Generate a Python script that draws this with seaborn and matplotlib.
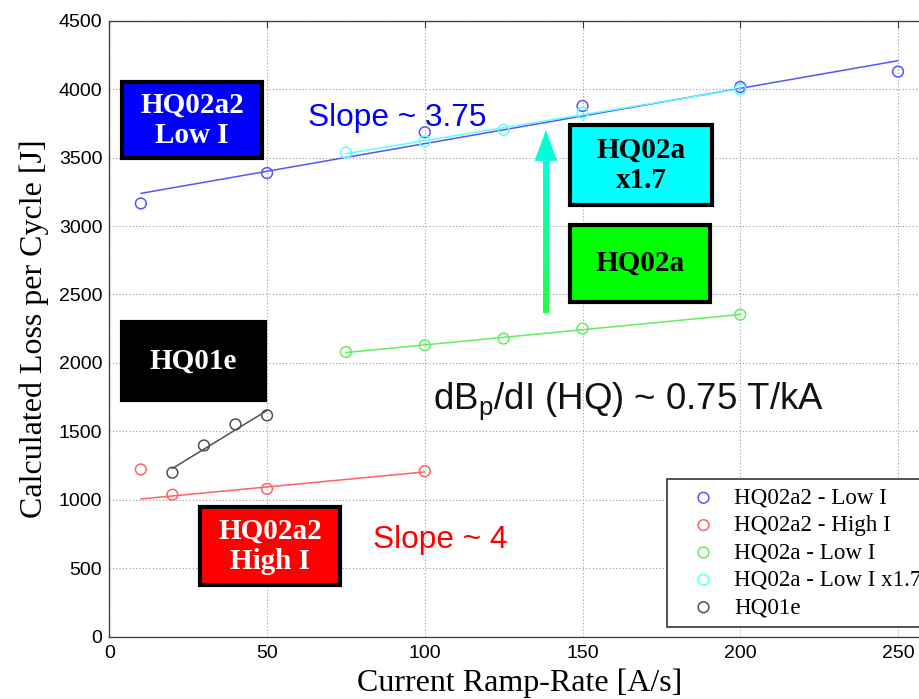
import numpy as np
import matplotlib
matplotlib.use("Agg")
import matplotlib.pyplot as plt
import seaborn as sns
from matplotlib.patches import Rectangle, Polygon

# Ramp rates [A/s] and calculated loss per cycle [J] for each magnet / current range
hq02a2_low_rate = [10, 50, 100, 150, 200, 250]
hq02a2_low_loss = [3165, 3387, 3685, 3877, 4016, 4128]

hq02a2_high_rate = [10, 20, 50, 100]
hq02a2_high_loss = [1222, 1037, 1080, 1209]

hq02a_low_rate = [75, 100, 125, 150, 200]
hq02a_low_loss = [2080, 2129, 2178, 2251, 2353]

hq02a_scaled_rate = [75, 100, 125, 150, 200]
hq02a_scaled_loss = [3536, 3619, 3703, 3827, 4000]

hq01e_rate = [20, 30, 40, 50]
hq01e_loss = [1198, 1397, 1551, 1617]

series_labels = ["HQ02a2 - Low I", "HQ02a2 - High I", "HQ02a - Low I",
                 "HQ02a - Low I x1.7", "HQ01e"]
series_colors = ["#5555ff", "#ff6262", "#5ef05e", "#5cffff", "#505050"]

x_ticks = [0, 50, 100, 150, 200, 250]
y_ticks = [0, 500, 1000, 1500, 2000, 2500, 3000, 3500, 4000, 4500]

sns.set_theme(style="white")
plt.rcParams["font.family"] = ["Liberation Sans", "DejaVu Sans"]
plt.rcParams["mathtext.fontset"] = "custom"
plt.rcParams["mathtext.rm"] = "Liberation Sans"
SERIF = ["Liberation Serif", "DejaVu Serif"]

fig = plt.figure(figsize=(9.2, 6.99), dpi=100)
ax = fig.add_axes([0.1188, 0.0891, 0.8916, 0.8813])
ax.set_facecolor("white")

rates = [hq02a2_low_rate, hq02a2_high_rate, hq02a_low_rate, hq02a_scaled_rate, hq01e_rate]
losses = [hq02a2_low_loss, hq02a2_high_loss, hq02a_low_loss, hq02a_scaled_loss, hq01e_loss]

# Linear fits; the 10 A/s high-current point is left out of its fit
fit_skip = [0, 1, 0, 0, 0]
for r, l, c, skip in zip(rates, losses, series_colors, fit_skip):
    r = np.asarray(r, float)
    l = np.asarray(l, float)
    k, b = np.polyfit(r[skip:], l[skip:], 1)
    xs = np.array([r.min(), r.max()])
    sns.lineplot(x=xs, y=k * xs + b, ax=ax, color=c, linewidth=1.1,
                 legend=False, zorder=3)

for r, l, c, lab in zip(rates, losses, series_colors, series_labels):
    sns.scatterplot(x=r, y=l, ax=ax, marker="o", s=60, facecolor="none",
                    edgecolor=c, linewidth=1.1, label=lab, zorder=4)

ax.set_xlim(0, 260)
ax.set_ylim(0, 4500)
ax.set_xticks(x_ticks)
ax.set_yticks(y_ticks)
ax.set_xticklabels([str(t) for t in x_ticks], fontsize=14, color="black")
ax.set_yticklabels([str(t) for t in y_ticks], fontsize=14, color="black")
ax.tick_params(direction="in", length=5, width=0.8, color="#333333",
               top=True, right=True, pad=5)
ax.tick_params(axis="x", pad=6)
ax.grid(True, linestyle=(0, (1, 2)), color="#9a9a9a", linewidth=0.8)
ax.set_axisbelow(True)
for s in ax.spines.values():
    s.set_color("#444444")
    s.set_linewidth(1.0)

ax.set_xlabel("Current Ramp-Rate [A/s]", fontsize=23, family=SERIF, color="black")
ax.set_ylabel("Calculated Loss per Cycle [J]", fontsize=23, family=SERIF, color="black")
ax.xaxis.set_label_coords(0.5, -0.052)
ax.yaxis.set_label_coords(-0.074, 0.5)

# Labelled boxes
boxes = [
    ((4.0, 3497), 44.4, 555, "#0000ff", "white", "HQ02a2\nLow I"),
    ((146.0, 3154), 45.0, 584, "#00ffff", "black", "HQ02a\nx1.7"),
    ((146.0, 2445), 44.4, 563, "#00ff00", "black", "HQ02a"),
    ((4.0, 1729), 45.3, 570, "#000000", "white", "HQ01e"),
    ((28.7, 378), 44.4, 569, "#ff0000", "white", "HQ02a2\nHigh I"),
]
for (x0, y0), w, h, fc, tc, txt in boxes:
    ax.add_patch(Rectangle((x0, y0), w, h, facecolor=fc, edgecolor="black",
                           linewidth=3, zorder=5))
    ax.text(x0 + w / 2, y0 + h / 2, txt, ha="center", va="center",
            fontsize=21, fontweight="bold", color=tc, family=SERIF,
            linespacing=1.15, zorder=6)

# Gradient arrow from HQ02a up to the scaled curve
arrow_x, y_start, y_tip = 138.4, 2363, 3701
head_len, shaft_hw, head_hw = 225, 0.95, 3.6
n = 60
ys = np.linspace(y_start, y_tip - head_len, n + 1)
c_bot = np.array([0.13, 1.0, 0.27])
c_top = np.array([0.0, 1.0, 0.85])
for i in range(n):
    t = i / (n - 1)
    ax.add_patch(Rectangle((arrow_x - shaft_hw, ys[i]), 2 * shaft_hw,
                           ys[i + 1] - ys[i] + 2, facecolor=(1 - t) * c_bot + t * c_top,
                           edgecolor="none", zorder=5))
ax.add_patch(Polygon([[arrow_x - head_hw, y_tip - head_len],
                      [arrow_x + head_hw, y_tip - head_len],
                      [arrow_x, y_tip]], closed=True, facecolor=c_top,
                     edgecolor="none", zorder=5))

ax.text(63.1, 3789, "Slope ~ 3.75", color="#0000ff", fontsize=22.8,
        ha="left", va="center", zorder=6)
ax.text(83.6, 706, "Slope ~ 4", color="#ff0000", fontsize=22.8,
        ha="left", va="center", zorder=6)
ax.text(102.6, 1720, r"dB$_\mathregular{p}$/dI (HQ) ~ 0.75 T/kA", color="#111111",
        fontsize=26.4, ha="left", va="center", zorder=6)

handles, labels = ax.get_legend_handles_labels()
leg = ax.legend(handles, labels, loc="lower left", bbox_to_anchor=(0.68, 0.0157),
                borderaxespad=0, prop={"family": SERIF, "size": 16.6},
                frameon=True, fancybox=False, framealpha=1, edgecolor="#333333",
                labelspacing=0.27, handlelength=2.4, handletextpad=0.12,
                borderpad=0.38)
for t in leg.get_texts():
    t.set_color("black")
leg.get_frame().set_linewidth(1.2)
leg.set_zorder(7)

fig.savefig("out.png", dpi=100)
